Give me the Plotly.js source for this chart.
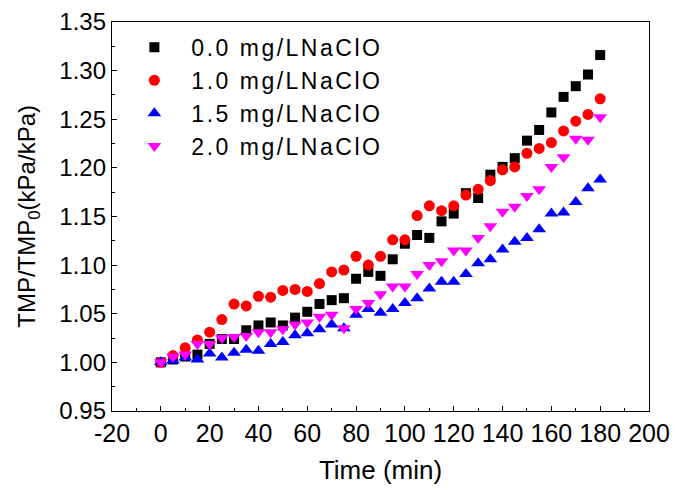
<!DOCTYPE html>
<html>
<head>
<meta charset="utf-8">
<script src="https://cdn.plot.ly/plotly-3.0.1.min.js"></script>
<style>
html,body{margin:0;padding:0;background:#fff;}
#chart{width:673px;height:495px;}
.legendtext{letter-spacing:2.5px;}
</style>
</head>
<body>
<div id="chart"></div>
<script>
const time = [0,5,10,15,20,25,30,35,40,45,50,55,60,65,70,75,80,85,90,95,100,105,110,115,120,125,130,135,140,145,150,155,160,165,170,175,180];
const seriesNames = ["0.0 mg/LNaClO","1.0 mg/LNaClO","1.5 mg/LNaClO","2.0 mg/LNaClO"];
const naclo0 = [1.000,1.003,1.006,1.008,1.019,1.024,1.024,1.033,1.038,1.041,1.038,1.046,1.052,1.060,1.064,1.066,1.086,1.093,1.089,1.106,1.122,1.131,1.128,1.145,1.153,1.174,1.169,1.193,1.201,1.210,1.228,1.239,1.257,1.273,1.284,1.296,1.316];
const naclo10 = [1.000,1.007,1.015,1.023,1.031,1.044,1.060,1.058,1.068,1.067,1.074,1.075,1.073,1.081,1.093,1.095,1.109,1.100,1.109,1.126,1.126,1.151,1.161,1.156,1.161,1.172,1.178,1.187,1.198,1.201,1.215,1.220,1.226,1.238,1.248,1.255,1.271];
const naclo15 = [1.000,1.002,1.005,1.003,1.009,1.005,1.010,1.013,1.012,1.019,1.021,1.028,1.030,1.034,1.039,1.035,1.049,1.055,1.051,1.055,1.061,1.066,1.076,1.083,1.083,1.091,1.102,1.106,1.116,1.124,1.128,1.137,1.153,1.154,1.165,1.179,1.188];
const naclo20 = [1.000,1.006,1.008,1.019,1.019,1.025,1.026,1.027,1.031,1.031,1.034,1.039,1.041,1.047,1.049,1.035,1.055,1.061,1.070,1.078,1.078,1.091,1.100,1.104,1.115,1.115,1.128,1.140,1.155,1.160,1.171,1.178,1.201,1.211,1.230,1.229,1.252];
const xTickVals = [-20,0,20,40,60,80,100,120,140,160,180,200];
const xTickText = ["-20","0","20","40","60","80","100","120","140","160","180","200"];
const xTitle = "Time (min)";
const yTitle = "TMP/TMP<sub>0</sub>(kPa/kPa)";

const FONT = "Arial, 'Liberation Sans', sans-serif";
const mk = (y, name, symbol, color, size) => ({
  x: time, y: y, name: name, type: 'scatter', mode: 'markers',
  marker: {symbol: symbol, color: color, size: size, line: {width: 0}}
});
const data = [
  mk(naclo0, seriesNames[0], 'square', '#000000', 10),
  mk(naclo10, seriesNames[1], 'circle', '#ff0000', 11),
  mk(naclo15, seriesNames[2], 'triangle-up', '#0000ff', 12),
  mk(naclo20, seriesNames[3], 'triangle-down', '#ff00ff', 12)
];
const axisCommon = {
  showgrid: false, zeroline: false, showline: true, linecolor: '#000', linewidth: 1.2,
  mirror: true, ticks: 'inside', ticklen: 5, tickwidth: 1, tickcolor: '#000'
};
const layout = {
  width: 673, height: 495,
  margin: {l: 112, r: 23.5, t: 21.5, b: 84},
  paper_bgcolor: '#fff', plot_bgcolor: '#fff',
  font: {family: FONT, color: '#000'},
  showlegend: true,
  legend: {x: 0.01, y: 0.99, xanchor: 'left', yanchor: 'top', bgcolor: 'rgba(0,0,0,0)',
           font: {family: FONT, size: 23, color: '#000'}, tracegroupgap: 0, itemwidth: 64},
  xaxis: Object.assign({}, axisCommon, {
    range: [-20, 200], tickmode: 'array', tickvals: xTickVals, ticktext: xTickText,
    tickfont: {family: FONT, size: 25, color: '#000'},
    minor: {dtick: 10, tick0: 0, ticks: 'inside', ticklen: 3, tickcolor: '#000', tickwidth: 1},
    title: {text: xTitle, font: {family: FONT, size: 26, color: '#000'}, standoff: 14}
  }),
  yaxis: Object.assign({}, axisCommon, {
    range: [0.95, 1.35], dtick: 0.05, tick0: 0.95, tickformat: '.2f',
    tickfont: {family: FONT, size: 24, color: '#000'},
    minor: {dtick: 0.025, ticks: 'inside', ticklen: 3, tickcolor: '#000', tickwidth: 1}
  }),
  annotations: [{
    text: yTitle, xref: 'paper', yref: 'paper', x: -0.156, y: 0.5,
    xanchor: 'center', yanchor: 'middle', textangle: -90, showarrow: false,
    font: {family: FONT, size: 24, color: '#000'}
  }]
};
Plotly.newPlot('chart', data, layout, {displayModeBar: false, staticPlot: true});
</script>
</body>
</html>
